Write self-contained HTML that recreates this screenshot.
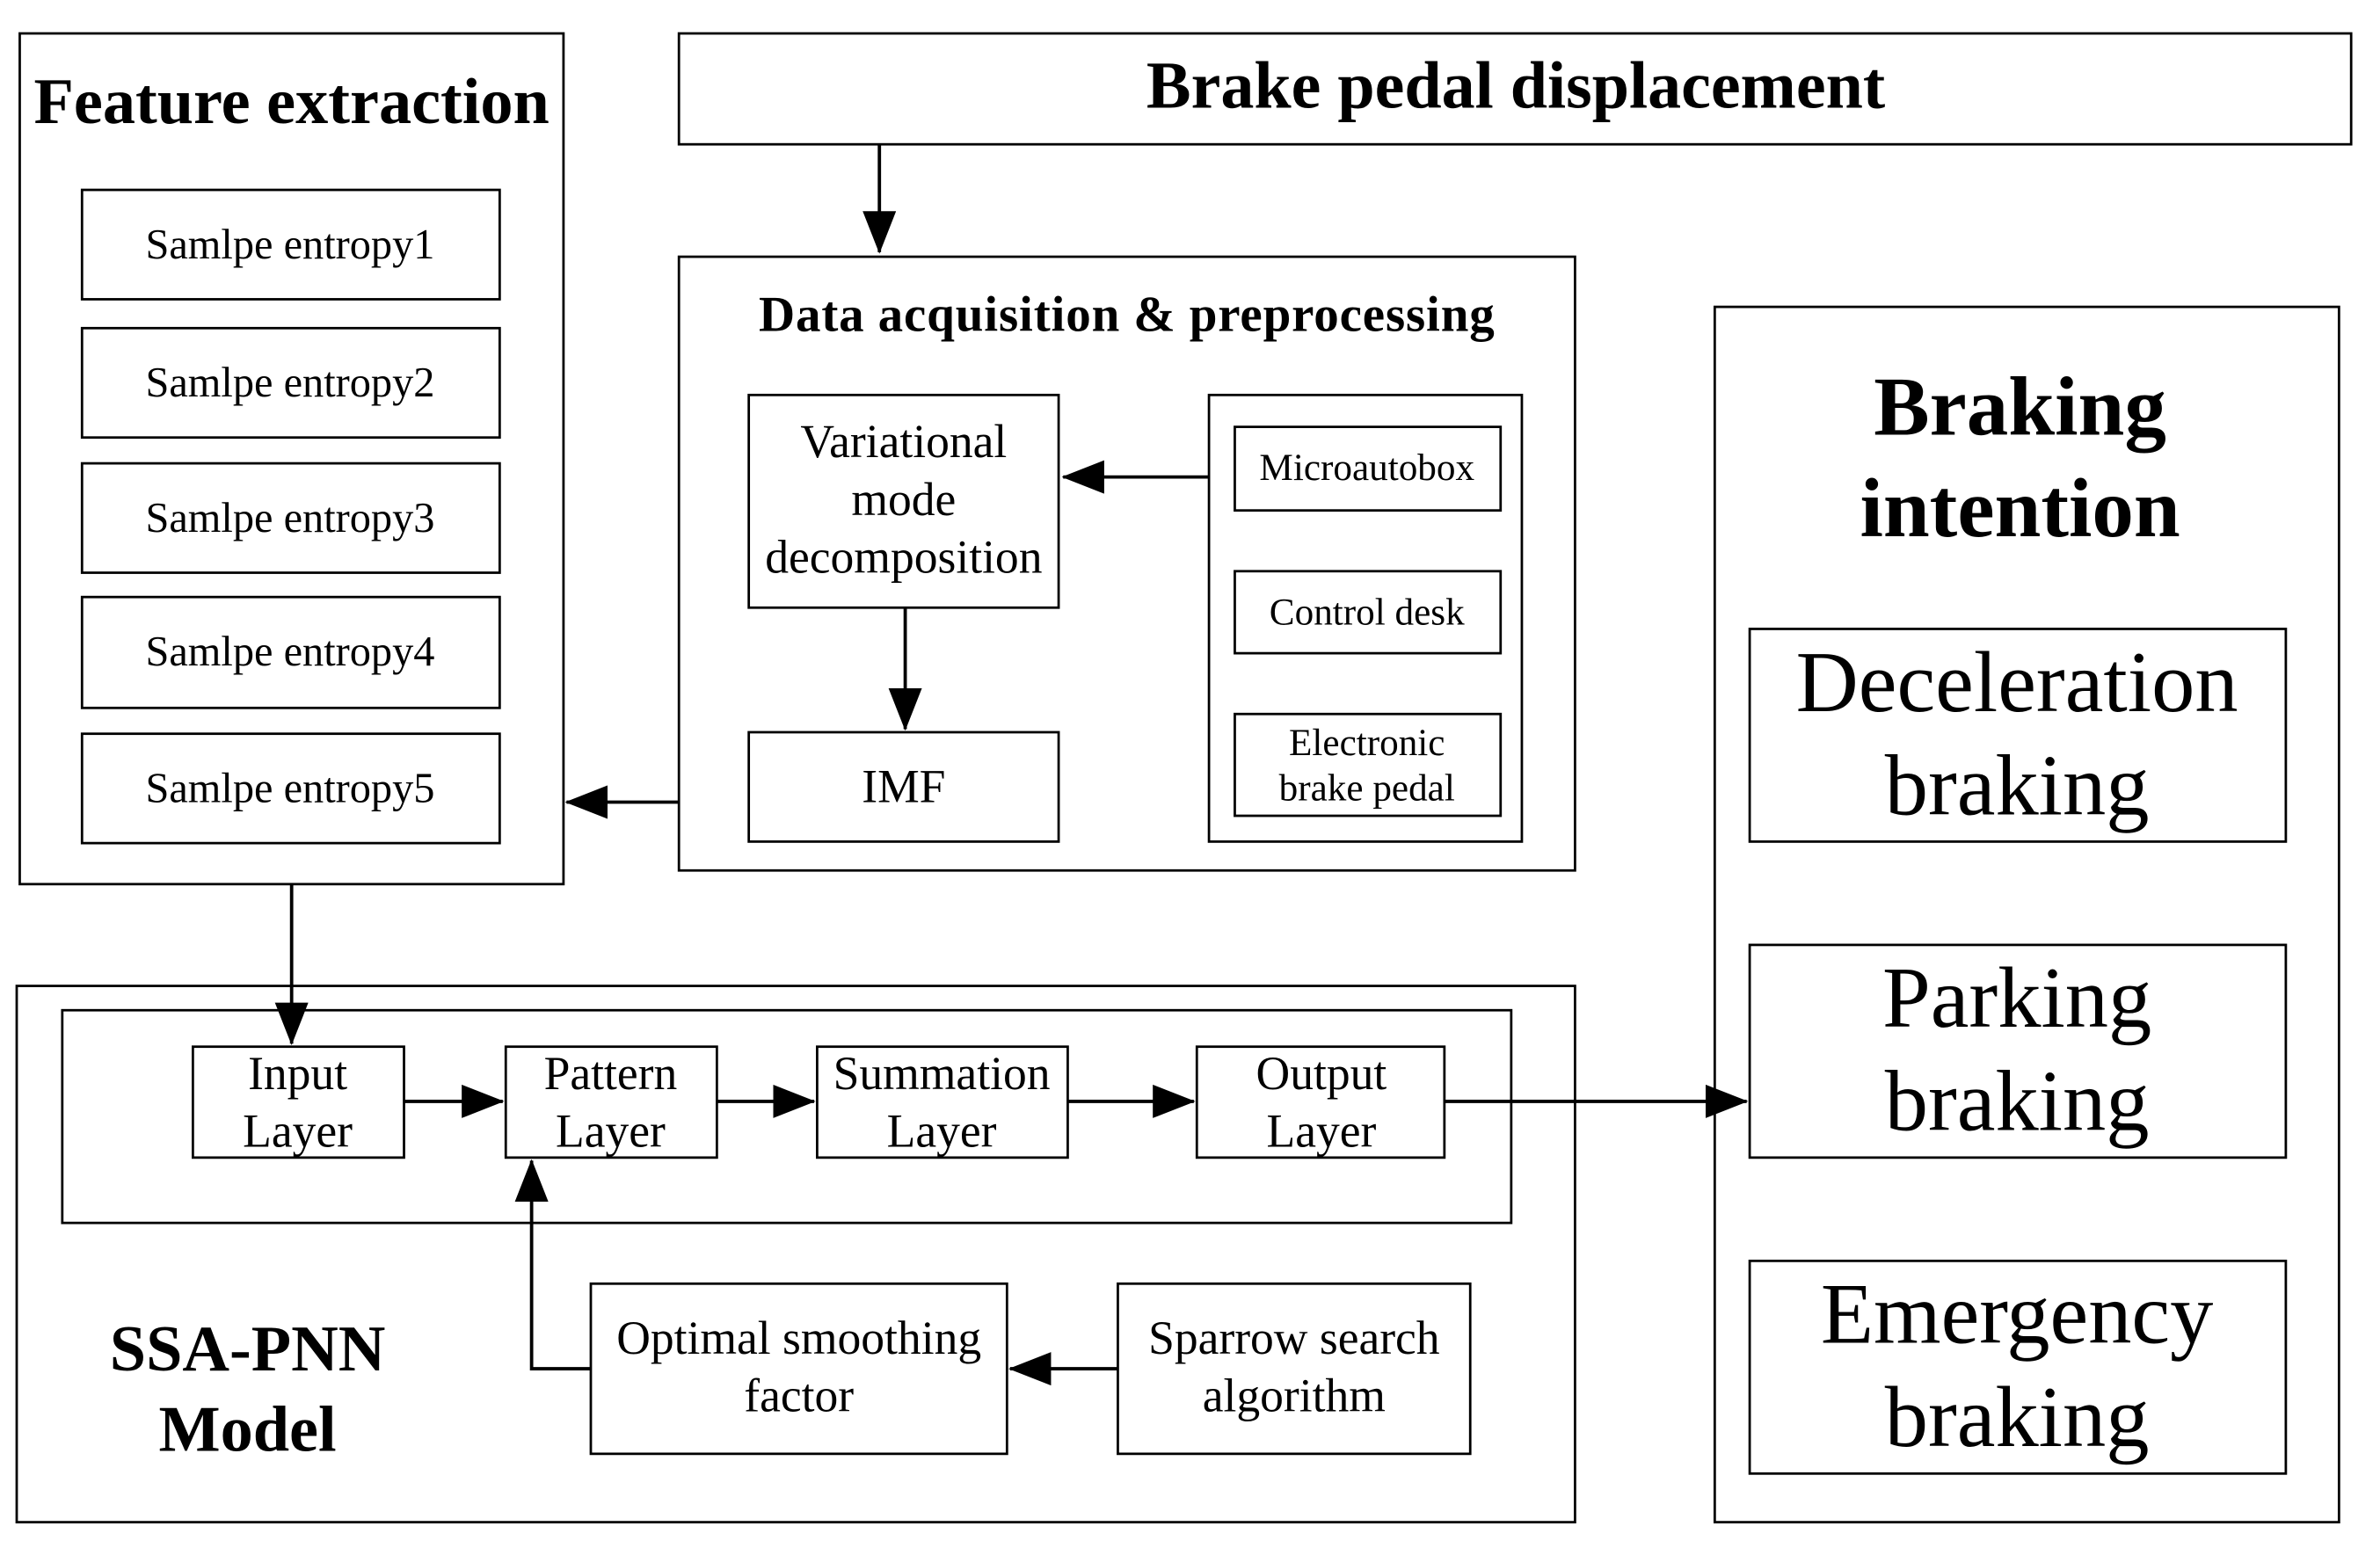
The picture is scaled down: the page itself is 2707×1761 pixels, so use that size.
<!DOCTYPE html>
<html><head><meta charset="utf-8"><style>
html,body{margin:0;padding:0;background:#fff;}
svg{display:block;}
text{font-family:"Liberation Serif",serif;fill:#000;}
</style></head><body>
<svg width="2707" height="1761" viewBox="0 0 1567 1019" preserveAspectRatio="none" xmlns="http://www.w3.org/2000/svg">
<defs>
<marker id="b" markerWidth="28" markerHeight="22" refX="27" refY="11" orient="auto" markerUnits="userSpaceOnUse" viewBox="0 0 28 22"><path d="M0,0 L28,11 L0,22 z" fill="#000"/></marker></defs>
<g fill="none" stroke="#000" stroke-width="1.6">
<rect x="13" y="22" width="358" height="560"/>
<rect x="54" y="125" width="275" height="72"/>
<rect x="54" y="216" width="275" height="72"/>
<rect x="54" y="305" width="275" height="72"/>
<rect x="54" y="393" width="275" height="73"/>
<rect x="54" y="483" width="275" height="72"/>
<rect x="447" y="22" width="1101" height="73"/>
<rect x="447" y="169" width="590" height="404"/>
<rect x="493" y="260" width="204" height="140"/>
<rect x="493" y="482" width="204" height="72"/>
<rect x="796" y="260" width="206" height="294"/>
<rect x="813" y="281" width="175" height="55"/>
<rect x="813" y="376" width="175" height="54"/>
<rect x="813" y="470" width="175" height="67"/>
<rect x="11" y="649" width="1026" height="353"/>
<rect x="41" y="665" width="954" height="140"/>
<rect x="127" y="689" width="139" height="73"/>
<rect x="333" y="689" width="139" height="73"/>
<rect x="538" y="689" width="165" height="73"/>
<rect x="788" y="689" width="163" height="73"/>
<rect x="389" y="845" width="274" height="112"/>
<rect x="736" y="845" width="232" height="112"/>
<rect x="1129" y="202" width="411" height="800"/>
<rect x="1152" y="414" width="353" height="140"/>
<rect x="1152" y="622" width="353" height="140"/>
<rect x="1152" y="830" width="353" height="140"/>
<g stroke-width="2.2">
<line x1="579" y1="95" x2="579" y2="166" marker-end="url(#b)"/>
<line x1="596" y1="400" x2="596" y2="480" marker-end="url(#b)"/>
<line x1="796" y1="314" x2="700" y2="314" marker-end="url(#b)"/>
<line x1="447" y1="528" x2="373" y2="528" marker-end="url(#b)"/>
<line x1="192" y1="582" x2="192" y2="687" marker-end="url(#b)"/>
<line x1="266" y1="725" x2="331" y2="725" marker-end="url(#b)"/>
<line x1="472" y1="725" x2="536" y2="725" marker-end="url(#b)"/>
<line x1="703" y1="725" x2="786" y2="725" marker-end="url(#b)"/>
<line x1="951" y1="725" x2="1150" y2="725" marker-end="url(#b)"/>
<line x1="736" y1="901" x2="665" y2="901" marker-end="url(#b)"/>
<polyline points="389,901 350,901 350,764" marker-end="url(#b)"/>
</g>
</g>
<text x="192" y="81" font-size="43" font-weight="bold" text-anchor="middle">Feature extraction</text>
<g font-size="28" text-anchor="middle">
<text x="191" y="170">Samlpe entropy1</text>
<text x="191" y="261">Samlpe entropy2</text>
<text x="191" y="350">Samlpe entropy3</text>
<text x="191" y="438">Samlpe entropy4</text>
<text x="191" y="528">Samlpe entropy5</text>
</g>
<text x="998" y="71" font-size="44" font-weight="bold" text-anchor="middle">Brake pedal displacement</text>
<text x="742" y="218" font-size="33" font-weight="bold" text-anchor="middle" letter-spacing="0.5">Data acquisition  &amp; preprocessing</text>
<g font-size="31" text-anchor="middle">
<text x="595" y="301">Variational</text>
<text x="595" y="339">mode</text>
<text x="595" y="377">decomposition</text>
<text x="595" y="528">IMF</text>
</g>
<g font-size="25" text-anchor="middle">
<text x="900" y="316">Microautobox</text>
<text x="900" y="411">Control desk</text>
<text x="900" y="497">Electronic</text>
<text x="900" y="527">brake pedal</text>
</g>
<g font-size="31" text-anchor="middle">
<text x="196" y="717">Input</text><text x="196" y="755">Layer</text>
<text x="402" y="717">Pattern</text><text x="402" y="755">Layer</text>
<text x="620" y="717">Summation</text><text x="620" y="755">Layer</text>
<text x="870" y="717">Output</text><text x="870" y="755">Layer</text>
<text x="526" y="891">Optimal smoothing</text><text x="526" y="929">factor</text>
<text x="852" y="891">Sparrow search</text><text x="852" y="929">algorithm</text>
</g>
<g font-size="43" font-weight="bold" text-anchor="middle">
<text x="163" y="902">SSA-PNN</text><text x="163" y="955">Model</text>
</g>
<g font-size="55" font-weight="bold" text-anchor="middle">
<text x="1330" y="286">Braking</text><text x="1330" y="353">intention</text>
</g>
<g font-size="57" text-anchor="middle">
<text x="1328" y="468">Deceleration</text><text x="1328" y="536">braking</text>
<text x="1328" y="676">Parking</text><text x="1328" y="744">braking</text>
<text x="1328" y="884">Emergency</text><text x="1328" y="952">braking</text>
</g>
</svg>
</body></html>
